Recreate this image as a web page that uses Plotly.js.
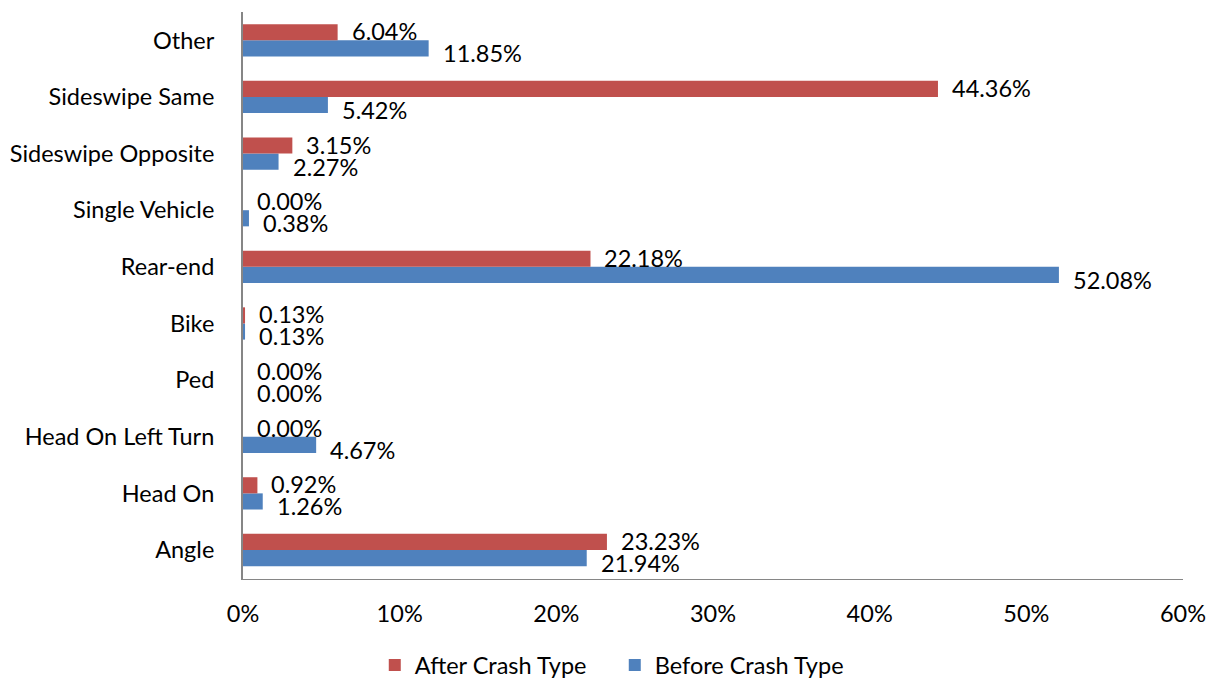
<!DOCTYPE html>
<html>
<head>
<meta charset="utf-8">
<script src="https://cdn.plot.ly/plotly-3.0.1.min.js"></script>
<style>html,body{margin:0;padding:0;background:#fff;}#chart{width:1209px;height:680px;}</style>
</head>
<body>
<div id="chart"></div>
<script>
const categories = ["Angle","Head On","Head On Left Turn","Ped","Bike","Rear-end","Single Vehicle","Sideswipe Opposite","Sideswipe Same","Other"];
const afterValues = [23.23, 0.92, 0.00, 0.00, 0.13, 22.18, 0.00, 3.15, 44.36, 6.04];
const beforeValues = [21.94, 1.26, 4.67, 0.00, 0.13, 52.08, 0.38, 2.27, 5.42, 11.85];
const xTickVals = [0,10,20,30,40,50,60];
const xTickText = ["0%","10%","20%","30%","40%","50%","60%"];

const FONT = "Lato, 'Open Sans', sans-serif";
const FS = 23.5;
const traces = [
  {type:'bar', orientation:'h', name:'Before Crash Type', y:categories, x:beforeValues,
   marker:{color:'#4F81BD'}, hoverinfo:'x'},
  {type:'bar', orientation:'h', name:'After Crash Type', y:categories, x:afterValues,
   marker:{color:'#C0504D'}, hoverinfo:'x'}
];
const annotations = [];
categories.forEach((c,i)=>{
  annotations.push({x:afterValues[i], y:c, yshift:9, xanchor:'left', xshift:12, showarrow:false,
    text:afterValues[i].toFixed(2)+'%', font:{size:FS,color:'#000',family:FONT}});
  annotations.push({x:beforeValues[i], y:c, yshift:-13, xanchor:'left', xshift:12, showarrow:false,
    text:beforeValues[i].toFixed(2)+'%', font:{size:FS,color:'#000',family:FONT}});
});
const layout = {
  width:1209, height:680,
  margin:{l:243, r:26, t:12, b:101, autoexpand:false},
  barmode:'group', bargap:0.43, bargroupgap:0,
  paper_bgcolor:'#fff', plot_bgcolor:'#fff',
  font:{family:FONT, size:FS, color:'#000'},
  xaxis:{range:[0,60], tickvals:xTickVals, ticktext:xTickText, showgrid:false, zeroline:false,
    showline:true, linecolor:'#868686', linewidth:1, ticks:'', ticklabelstandoff:14,
    tickfont:{size:FS}, automargin:false},
  yaxis:{type:'category', categoryorder:'array', categoryarray:categories, showgrid:false, zeroline:false,
    showline:true, linecolor:'#868686', linewidth:2, ticks:'', ticklabelstandoff:22, tickfont:{size:FS}, automargin:false},
  showlegend:true,
  legend:{orientation:'h', x:0.3955, xanchor:'center', y:-0.152, yanchor:'middle', traceorder:'reversed',
    font:{size:FS}, itemwidth:30, entrywidth:195, entrywidthmode:'pixels'},
  annotations:annotations
};
Plotly.newPlot('chart', traces, layout, {displayModeBar:false, staticPlot:true});
</script>
</body>
</html>
